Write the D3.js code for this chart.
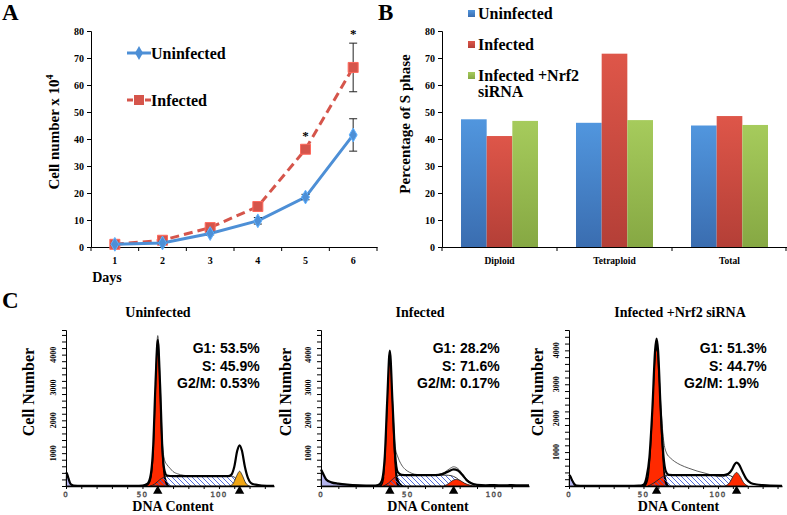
<!DOCTYPE html>
<html>
<head>
<meta charset="utf-8">
<script src="https://cdn.jsdelivr.net/npm/d3@7"></script>
<style>
  body { margin: 0; background: #fff; }
  svg { display: block; }
  .serif { font-family: "Liberation Serif", "Times New Roman", serif; font-weight: bold; }
  .sans { font-family: "Liberation Sans", Arial, sans-serif; font-weight: bold; }
</style>
</head>
<body>
<div id="chart"></div>
<script>
// ---- panel A: cell growth ----
const days = ["1", "2", "3", "4", "5", "6"];
const uninfectedCells = [1, 1.5, 5, 9.7, 18.5, 41.5];
const uninfectedErr = [0.3, 0.3, 0.5, 1.2, 1, 6];
const infectedCells = [1, 2.5, 7.2, 15, 36.2, 66.5];
const infectedErr = [0.3, 0.5, 0.7, 0.8, 1.5, 9];
const starDays = ["5", "6"];

// ---- panel B: S phase percentage ----
const ploidy = ["Diploid", "Tetraploid", "Total"];
const groups = ["Uninfected", "Infected", "Infected +Nrf2 siRNA"];
const sUninfected = [47.3, 46, 45];
const sInfected = [41.1, 71.6, 48.5];
const sSirna = [46.7, 47, 45.2];

// ---- panel C: DNA content histograms, [DNA content, cell number] ----
const phaseNames = ["G1:", "S:", "G2/M:"];
const uninfectedPhases = ["53.5%", "45.9%", "0.53%"];
const infectedPhases = ["28.2%", "71.6%", "0.17%"];
const sirnaPhases = ["51.3%", "44.7%", "1.9%"];

const uninfectedPeaks = [60, 113.5];
const uninfectedDebris = [[0, 0], [0.3, 400], [1.2, 300], [2.5, 100], [4, 20], [5.5, 0]];
const uninfectedG1Edge = [[51, 0], [53.5, 60], [55.5, 350], [57.3, 1600], [58.8, 3600], [60, 4450], [61.2, 3600], [62.7, 1600], [64.3, 550], [66, 150], [68, 0]];
const uninfectedG1 = [[53, 0], [55.5, 150], [57.5, 1100], [59, 3100], [60, 4270], [61, 3100], [62.5, 1100], [64.5, 150], [66, 0]];
const uninfectedS = [[55, 0], [58, 60], [61, 180], [64, 270], [67, 300], [108, 300], [110, 270], [112, 190], [114.5, 90], [117, 20], [119, 0]];
const uninfectedG2 = [[107, 0], [109.5, 90], [111.8, 330], [113.5, 450], [115.2, 330], [117.5, 90], [120, 0]];
const uninfectedFit = [[0, 420], [0.6, 380], [1.5, 250], [3, 60], [5, 15], [10, 5], [30, 5], [45, 8], [50, 15], [53, 60], [55, 250], [57, 1200], [58.5, 3100], [60, 4450], [61.5, 3100], [63, 1150], [64.5, 450], [66, 320], [70, 300], [106, 300], [108, 340], [110, 580], [112, 1080], [113.5, 1240], [115, 1080], [117, 580], [119, 240], [121, 90], [124, 40], [128, 15], [136, 5]];
const uninfectedRaw = [[58.5, 3150], [60, 4580], [61.5, 3200], [63, 1350], [64.5, 780], [66, 650], [68, 540], [70, 440], [73, 370], [77, 325], [82, 305]];

const infectedPeaks = [39.7, 76.5];
const infectedDebris = [[0, 0], [0.2, 500], [1, 400], [2, 270], [3, 200], [5, 135], [8, 90], [12, 60], [16, 40], [20, 25], [25, 12], [30, 0]];
const infectedG1Edge = [[33, 0], [35, 100], [36.8, 800], [38.2, 2500], [39.2, 3800], [39.7, 4120], [40.3, 3800], [41.3, 2400], [42.7, 900], [44.3, 300], [46, 80], [48, 0]];
const infectedG1 = [[35, 0], [36.5, 250], [37.8, 1500], [39, 3200], [39.7, 3900], [40.5, 3200], [41.6, 1500], [42.9, 300], [44, 0]];
const infectedS = [[36, 0], [39, 90], [42, 240], [45, 320], [50, 330], [72, 330], [75, 315], [78, 250], [81, 130], [84, 40], [87, 0]];
const infectedG2 = [[71, 0], [73.5, 70], [76, 170], [78, 200], [80.5, 160], [83, 80], [86, 25], [89, 0]];
const infectedFit = [[0, 500], [1, 400], [3, 200], [6, 110], [10, 70], [15, 40], [22, 18], [30, 10], [33, 30], [35, 150], [36.8, 900], [38.2, 2600], [39.7, 4120], [41.3, 2500], [42.7, 1000], [44.3, 420], [46.5, 340], [50, 330], [66, 332], [70, 360], [73, 430], [76.5, 505], [79, 470], [81.5, 340], [84, 180], [87, 75], [90, 35], [95, 22], [100, 26], [105, 20], [110, 26], [115, 20], [120, 22]];
const infectedRaw = [[41.3, 2600], [42.8, 1200], [44.6, 850], [46.5, 640], [48.5, 510], [51, 420], [54, 360], [58, 340], [64, 335], [68, 355], [71, 410], [74, 520], [76.5, 585], [79, 530], [81.5, 380], [84, 210], [87, 90], [90, 40]];

const sirnaPeaks = [58.8, 112.5];
const sirnaDebris = [[0, 0], [0.3, 330], [1.3, 260], [2.5, 120], [4, 30], [5.5, 0]];
const sirnaG1Edge = [[49, 0], [51.5, 120], [53.8, 700], [56, 2200], [57.8, 3900], [58.8, 4350], [59.8, 3900], [61.5, 2200], [63.5, 750], [65.5, 180], [67.5, 0]];
const sirnaG1 = [[51.5, 0], [53.5, 250], [55.5, 1400], [57.4, 3200], [58.8, 4000], [60.1, 3200], [61.9, 1400], [63.7, 250], [65.2, 0]];
const sirnaS = [[53, 0], [57, 90], [61, 220], [64.5, 305], [68, 320], [106, 320], [108.5, 300], [111, 230], [114, 110], [117, 30], [119.5, 0]];
const sirnaG2 = [[105, 0], [107.8, 100], [110.5, 310], [112.5, 400], [114.5, 310], [117.2, 100], [120, 0]];
const sirnaFit = [[0, 330], [0.8, 290], [2, 180], [3.5, 60], [5, 15], [10, 5], [40, 5], [47, 10], [50, 40], [52, 250], [54, 850], [56, 2300], [57.8, 4000], [58.8, 4350], [59.8, 4000], [61.5, 2300], [63.5, 850], [65, 430], [67, 330], [72, 320], [104, 322], [107, 360], [109.5, 490], [111.2, 640], [112.5, 690], [114, 640], [116.5, 420], [119, 210], [122, 90], [126, 45], [130, 25], [135, 12], [143, 8]];
const sirnaRaw = [[59.8, 4000], [61.5, 2500], [63.5, 1350], [65.5, 970], [68, 830], [71, 720], [75, 620], [80, 530], [86, 440], [92, 370], [98, 300], [103, 275], [106, 310], [109, 430]];

const svg = d3
  .select("#chart")
  .append("svg")
  .attr("width", 787)
  .attr("height", 515);

const defs = svg.append("defs");

// bar gradients, lighter on top
const barColors = [
  ["gUninf", "#5196de", "#3a6db0"],
  ["gInf", "#de5649", "#b43f37"],
  ["gSirna", "#a6cb5c", "#86a843"],
];
barColors.forEach(([id, top, bottom]) => {
  const lg = defs.append("linearGradient").attr("id", id).attr("x1", 0).attr("y1", 0).attr("x2", 0).attr("y2", 1);
  lg.append("stop").attr("offset", "0%").attr("stop-color", top);
  lg.append("stop").attr("offset", "100%").attr("stop-color", bottom);
});

defs
  .append("pattern")
  .attr("id", "hatch")
  .attr("patternUnits", "userSpaceOnUse")
  .attr("width", 5)
  .attr("height", 5)
  .append("path")
  .attr("d", "M-1,-1L6,6M-1,4L1,6M4,-1L6,1")
  .attr("stroke", "#3f5fd8")
  .attr("stroke-width", 0.9);

// panel letters
[["A", 2, 20], ["B", 378, 20], ["C", 2, 308]].forEach(([t, x, y]) => {
  svg.append("text").attr("class", "serif").attr("x", x).attr("y", y).attr("font-size", 23).text(t);
});

const styleAxis = (g, size) => {
  g.selectAll(".domain").attr("stroke", "#000");
  g.selectAll(".tick line").attr("stroke", "#000");
  g.selectAll("text")
    .attr("class", "serif")
    .attr("font-size", size)
    .attr("fill", "#000");
};

// ================= A =================
const yA = d3.scaleLinear().domain([0, 80]).range([247, 31]);
const xA = d3.scaleBand().domain(days).range([91, 377]);
const cx = (i) => xA(days[i]) + xA.bandwidth() / 2;

svg
  .append("g")
  .attr("transform", "translate(91,0)")
  .call(d3.axisLeft(yA).ticks(8).tickSize(4).tickPadding(3))
  .call((g) => styleAxis(g, 10));

svg
  .append("g")
  .attr("transform", "translate(0,247)")
  .call(d3.axisBottom(xA).tickSize(0).tickPadding(10))
  .call((g) => styleAxis(g, 10));

svg
  .append("g")
  .selectAll("line")
  .data([...days.map((d) => xA(d)), 377])
  .join("line")
  .attr("x1", (d) => d)
  .attr("x2", (d) => d)
  .attr("y1", 247)
  .attr("y2", 251)
  .attr("stroke", "#000");

svg.append("text").attr("class", "serif").attr("x", 107).attr("y", 282).attr("text-anchor", "middle").attr("font-size", 14).text("Days");

const yLabA = svg
  .append("text")
  .attr("class", "serif")
  .attr("font-size", 15)
  .attr("text-anchor", "middle")
  .attr("transform", "translate(59,132) rotate(-90)");
yLabA.append("tspan").text("Cell number x 10");
yLabA.append("tspan").attr("font-size", 10).attr("dy", -6).text("4");

const lineA = d3
  .line()
  .x((d, i) => cx(i))
  .y((d) => yA(d));

const series = [
  { vals: infectedCells, err: infectedErr, color: "#d5554b", dash: "9,5", sym: d3.symbolSquare, size: 100 },
  { vals: uninfectedCells, err: uninfectedErr, color: "#4d8fd6", dash: null, sym: d3.symbolDiamond, size: 55 },
];

series.forEach((s) => {
  svg
    .append("path")
    .datum(s.vals)
    .attr("d", lineA)
    .attr("fill", "none")
    .attr("stroke", s.color)
    .attr("stroke-width", 3)
    .attr("stroke-dasharray", s.dash);

  const eb = svg.append("g").selectAll("g").data(s.vals).join("g").attr("stroke", "#222").attr("stroke-width", 1);
  eb.append("line")
    .attr("x1", (d, i) => cx(i))
    .attr("x2", (d, i) => cx(i))
    .attr("y1", (d, i) => yA(d + s.err[i]))
    .attr("y2", (d, i) => yA(d - s.err[i]));
  [1, -1].forEach((sg) =>
    eb.append("line")
      .attr("x1", (d, i) => cx(i) - 4)
      .attr("x2", (d, i) => cx(i) + 4)
      .attr("y1", (d, i) => yA(d + sg * s.err[i]))
      .attr("y2", (d, i) => yA(d + sg * s.err[i]))
  );

  svg
    .append("g")
    .selectAll("path")
    .data(s.vals)
    .join("path")
    .attr("transform", (d, i) => `translate(${cx(i)},${yA(d)})`)
    .attr("d", d3.symbol(s.sym, s.size))
    .attr("fill", s.color)
    .attr("stroke", d3.color(s.color).brighter(0.6))
    .attr("stroke-width", 1);
});

svg
  .append("g")
  .selectAll("text")
  .data(starDays)
  .join("text")
  .attr("class", "serif")
  .attr("font-size", 13)
  .attr("text-anchor", "middle")
  .attr("x", (d) => xA(d) + xA.bandwidth() / 2)
  .attr("y", (d) => {
    const i = days.indexOf(d);
    return yA(infectedCells[i] + infectedErr[i]) - 5;
  })
  .text("*");

// legend A
const legA = [
  { label: "Uninfected", s: series[1], y: 53 },
  { label: "Infected", s: series[0], y: 100 },
];
legA.forEach((l) => {
  svg.append("line").attr("x1", 127).attr("x2", 151).attr("y1", l.y).attr("y2", l.y)
    .attr("stroke", l.s.color).attr("stroke-width", 3).attr("stroke-dasharray", l.s.dash ? "6,3" : null);
  svg.append("path").attr("transform", `translate(139,${l.y})`).attr("d", d3.symbol(l.s.sym, l.s.size))
    .attr("fill", l.s.color);
  svg.append("text").attr("class", "serif").attr("font-size", 16).attr("x", 151).attr("y", l.y + 6).text(l.label);
});

// ================= B =================
const yB = d3.scaleLinear().domain([0, 80]).range([247, 31]);
const xB = d3.scaleBand().domain(ploidy).range([442, 787]);
const xB1 = d3.scaleBand().domain(groups).range([19, 96]);
const barVals = [sUninfected, sInfected, sSirna];
const barFills = ["url(#gUninf)", "url(#gInf)", "url(#gSirna)"];

svg
  .append("g")
  .attr("transform", "translate(442,0)")
  .call(d3.axisLeft(yB).ticks(8).tickSize(4).tickPadding(3))
  .call((g) => styleAxis(g, 10));

svg
  .append("g")
  .attr("transform", "translate(0,247)")
  .call(d3.axisBottom(xB).tickSize(0).tickPadding(10))
  .call((g) => styleAxis(g, 9.5));

svg
  .append("g")
  .selectAll("line")
  .data(ploidy.map((d) => xB(d)).concat([786]))
  .join("line")
  .attr("x1", (d) => d)
  .attr("x2", (d) => d)
  .attr("y1", 247)
  .attr("y2", 251)
  .attr("stroke", "#000");

groups.forEach((gname, gi) => {
  svg
    .append("g")
    .selectAll("rect")
    .data(barVals[gi])
    .join("rect")
    .attr("x", (d, i) => xB(ploidy[i]) + xB1(gname))
    .attr("width", xB1.bandwidth())
    .attr("y", (d) => yB(d))
    .attr("height", (d) => yB(0) - yB(d))
    .attr("fill", barFills[gi]);
});

svg.append("text").attr("class", "serif").attr("font-size", 15).attr("text-anchor", "middle")
  .attr("transform", "translate(410,124) rotate(-90)").text("Percentage of S phase");

const legB = [
  { lines: ["Uninfected"], y: 19 },
  { lines: ["Infected"], y: 50 },
  { lines: ["Infected +Nrf2", "siRNA"], y: 81 },
];
legB.forEach((l, i) => {
  svg.append("rect").attr("x", 468).attr("y", l.y - 9).attr("width", 7).attr("height", 7).attr("fill", barFills[i]);
  l.lines.forEach((t, k) =>
    svg.append("text").attr("class", "serif").attr("font-size", 16).attr("x", 478).attr("y", l.y + k * 16).text(t)
  );
});

// ================= C =================
const flowPanels = [
  { title: "Uninfected", phases: uninfectedPhases, peaks: uninfectedPeaks, debris: uninfectedDebris, g1Edge: uninfectedG1Edge, g1: uninfectedG1, s: uninfectedS, g2: uninfectedG2, g2Color: "#f0a614", fit: uninfectedFit, raw: uninfectedRaw,
    x0: 66, x1: 274, xMax: 136, yMax: 4750, colon: 216, yLab: 34, titleX: 158 },
  { title: "Infected", phases: infectedPhases, peaks: infectedPeaks, debris: infectedDebris, g1Edge: infectedG1Edge, g1: infectedG1, s: infectedS, g2: infectedG2, g2Color: "#ff2a00", fit: infectedFit, raw: infectedRaw,
    x0: 321, x1: 529, xMax: 120, yMax: 4750, colon: 456, yLab: 291, titleX: 420 },
  { title: "Infected +Nrf2 siRNA", phases: sirnaPhases, peaks: sirnaPeaks, debris: sirnaDebris, g1Edge: sirnaG1Edge, g1: sirnaG1, s: sirnaS, g2: sirnaG2, g2Color: "#ff2a00", fit: sirnaFit, raw: sirnaRaw,
    x0: 569, x1: 782, xMax: 143, yMax: 4600, colon: 723, yLab: 543, titleX: 680 },
];

const drawFlow = (p) => {
  const x = d3.scaleLinear().domain([0, p.xMax]).range([p.x0, p.x1]);
  const y = d3.scaleLinear().domain([0, p.yMax]).range([486, 330]);
  const g = svg.append("g");
  const area = d3.area().curve(d3.curveMonotoneX).x((d) => x(d[0])).y0(y(0)).y1((d) => y(d[1]));
  const line = d3.line().curve(d3.curveMonotoneX).x((d) => x(d[0])).y((d) => y(d[1]));

  g.append("path").datum(p.debris).attr("d", area).attr("fill", "#b3b3ee").attr("stroke", "#333").attr("stroke-width", 0.7);
  g.append("path").datum(p.g1Edge).attr("d", area).attr("fill", "#000");
  g.append("path").datum(p.g1).attr("d", area).attr("fill", "#ff2a00");
  g.append("path").datum(p.s).attr("d", area).attr("fill", "url(#hatch)").attr("stroke", "#222").attr("stroke-width", 0.9);
  g.append("path").datum(p.g2).attr("d", area).attr("fill", p.g2Color).attr("stroke", "#222").attr("stroke-width", 0.8);
  g.append("path").datum(p.raw).attr("d", line).attr("fill", "none").attr("stroke", "#333").attr("stroke-width", 0.8);
  g.append("path").datum(p.fit).attr("d", line).attr("fill", "none").attr("stroke", "#000").attr("stroke-width", 2.2);

  // axes
  g.append("g")
    .attr("transform", `translate(${p.x0},0)`)
    .call(d3.axisLeft(y).tickValues(d3.range(0, p.yMax, 200)).tickSize(4).tickFormat(""))
    .call((a) => a.selectAll(".domain").attr("stroke", "#000"));
  g.append("g")
    .attr("transform", "translate(0,486)")
    .call(d3.axisBottom(x).tickValues(d3.range(0, p.xMax, 10)).tickSize(3).tickFormat("").tickSizeOuter(0))
    .call((a) => a.selectAll(".domain").attr("stroke", "#000").attr("stroke-width", 1.5));

  g.append("g")
    .selectAll("text")
    .data([1000, 2000, 3000, 4000])
    .join("text")
    .attr("class", "serif")
    .attr("font-size", 8)
    .attr("text-anchor", "middle")
    .attr("transform", (d) => `translate(${p.x0 - 10},${y(d)}) rotate(-90)`)
    .text((d) => d);

  g.append("g")
    .selectAll("text")
    .data([0, 50, 100])
    .join("text")
    .attr("font-family", "DejaVu Sans")
    .attr("font-size", 7)
    .attr("letter-spacing", 1.2)
    .attr("text-anchor", "middle")
    .attr("fill", "#fff")
    .attr("stroke", "#555")
    .attr("stroke-width", 0.6)
    .attr("x", (d) => x(d))
    .attr("y", 497)
    .text((d) => d);

  g.append("g")
    .selectAll("path")
    .data(p.peaks)
    .join("path")
    .attr("transform", (d) => `translate(${x(d)},491)`)
    .attr("d", d3.symbol(d3.symbolTriangle, 38))
    .attr("fill", "#000");

  g.append("text").attr("class", "serif").attr("font-size", 14).attr("text-anchor", "middle")
    .attr("x", (p.x0 + p.x1) / 2 + 3).attr("y", 511).text("DNA Content");
  g.append("text").attr("class", "serif").attr("font-size", 16).attr("text-anchor", "middle")
    .attr("transform", `translate(${p.yLab},392) rotate(-90)`).text("Cell Number");
  g.append("text").attr("class", "serif").attr("font-size", 14).attr("text-anchor", "middle")
    .attr("x", p.titleX).attr("y", 317).text(p.title);

  phaseNames.forEach((nm, k) => {
    g.append("text").attr("class", "sans").attr("font-size", 14).attr("text-anchor", "end")
      .attr("x", p.colon).attr("y", 353 + k * 17.5).text(nm);
    g.append("text").attr("class", "sans").attr("font-size", 14)
      .attr("x", p.colon + 4).attr("y", 353 + k * 17.5).text(p.phases[k]);
  });
};

flowPanels.forEach(drawFlow);
</script>
</body>
</html>
